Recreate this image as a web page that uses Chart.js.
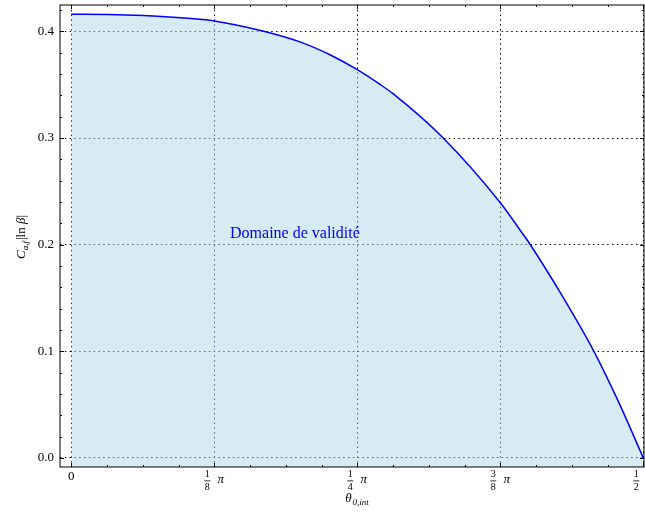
<!DOCTYPE html>
<html>
<head>
<meta charset="utf-8">
<script src="https://cdn.jsdelivr.net/npm/chart.js@4.4.1/dist/chart.umd.min.js"></script>
<style>
  html, body { margin: 0; padding: 0; background: #fff; }
</style>
</head>
<body>
<canvas id="chart" width="645" height="513"></canvas>
<script>
// curve (theta in rad, C_af*|ln beta|)
const theta = [0, 0.10, 0.198, 0.28, 0.3534, 0.3927, 0.5229, 0.628, 0.7104, 0.7854, 0.8478, 0.8843,
               1.0199, 1.1792, 1.2322, 1.2597, 1.3511, 1.4355, 1.5022, 1.5708];
const cab   = [0.4162, 0.4160, 0.4150, 0.4134, 0.4114, 0.4099, 0.4007, 0.3902, 0.3781, 0.3641, 0.3503, 0.3414,
               0.3005, 0.2389, 0.2138, 0.2004, 0.1503, 0.0998, 0.0530, 0];

const xMajor = [0, Math.PI / 8, Math.PI / 4, 3 * Math.PI / 8, Math.PI / 2];
const xNum = ['0', '1', '1', '3', '1'];
const xDen = ['', '8', '4', '8', '2'];
const yMajor = [0, 0.1, 0.2, 0.3, 0.4];
const yLabels = ['0.0', '0.1', '0.2', '0.3', '0.4'];

const annotText = 'Domaine de validité';
const annotX = 0.436, annotY = 0.206;

const serif = '"Liberation Serif", "DejaVu Serif", serif';

const decor = {
    id: 'decor',
    afterDraw(chart) {
        const { ctx, chartArea: ca, scales: { x, y } } = chart;
        ctx.save();

        // frame
        ctx.strokeStyle = '#000';
        ctx.lineWidth = 1;
        ctx.strokeRect(ca.left, ca.top, ca.right - ca.left, ca.bottom - ca.top);

        // inward ticks, all four sides
        ctx.beginPath();
        for (let k = 0; k <= 16; k++) {
            const px = Math.round(x.getPixelForValue(k * Math.PI / 32)) + 0.5;
            const len = k % 4 === 0 ? 4 : 2;
            ctx.moveTo(px, ca.bottom); ctx.lineTo(px, ca.bottom - len);
            ctx.moveTo(px, ca.top); ctx.lineTo(px, ca.top + len);
        }
        for (let k = 0; k <= 21; k++) {
            const py = Math.round(y.getPixelForValue(k * 0.02)) + 0.5;
            const len = k % 5 === 0 ? 4 : 2;
            ctx.moveTo(ca.left, py); ctx.lineTo(ca.left + len, py);
            ctx.moveTo(ca.right, py); ctx.lineTo(ca.right - len, py);
        }
        ctx.stroke();

        ctx.fillStyle = '#000';
        ctx.textBaseline = 'middle';

        // y tick labels
        ctx.textAlign = 'right';
        ctx.font = '13px ' + serif;
        yMajor.forEach((v, i) => {
            ctx.fillText(yLabels[i], ca.left - 6, y.getPixelForValue(v));
        });

        // x tick labels as fractions of pi
        ctx.textAlign = 'center';
        xMajor.forEach((v, i) => {
            const px = x.getPixelForValue(v);
            if (!xDen[i]) {
                ctx.font = '13px ' + serif;
                ctx.fillText(xNum[i], px, 477);
                return;
            }
            const fx = px - 7;
            ctx.font = '10px ' + serif;
            ctx.fillText(xNum[i], fx, 474.5);
            ctx.fillText(xDen[i], fx, 487);
            ctx.fillRect(fx - 3, 480.5, 6, 0.8);
            ctx.font = 'italic 13px ' + serif;
            ctx.fillText('π', px + 6.5, 479.5);
        });

        // x title: theta_{0,int}
        ctx.textAlign = 'left';
        ctx.font = 'italic 13px ' + serif;
        const wt = ctx.measureText('θ').width;
        ctx.font = 'italic 9px ' + serif;
        const ws = ctx.measureText('0,int').width;
        const sx = 357 - (wt + ws + 1) / 2;
        ctx.font = 'italic 13px ' + serif;
        ctx.fillText('θ', sx, 499);
        ctx.font = 'italic 9px ' + serif;
        ctx.fillText('0,int', sx + wt + 1, 503);

        // y title: C_{a,f}|ln beta|
        ctx.save();
        ctx.translate(22, 237);
        ctx.rotate(-Math.PI / 2);
        const parts = [
            ['C', 'italic 13px ', 0],
            ['a,f', 'italic 9px ', 3.5],
            ['|ln ', '13px ', 0],
            ['β', 'italic 13px ', 0],
            ['|', '13px ', 0],
        ];
        let total = 1;
        parts.forEach(p => { ctx.font = p[1] + serif; total += ctx.measureText(p[0]).width; });
        let cx = -total / 2;
        parts.forEach((p, i) => {
            ctx.font = p[1] + serif;
            ctx.fillText(p[0], cx, p[2]);
            cx += ctx.measureText(p[0]).width + (i === 1 ? 1 : 0);
        });
        ctx.restore();

        // annotation
        ctx.fillStyle = '#0000ff';
        ctx.font = '16px ' + serif;
        ctx.textBaseline = 'alphabetic';
        ctx.fillText(annotText, x.getPixelForValue(annotX), y.getPixelForValue(annotY));

        ctx.restore();
    },
};

const gridOpts = { color: '#000', lineWidth: 1, drawTicks: false };
const borderOpts = { display: false, dash: [1.5, 3.3] };

new Chart(document.getElementById('chart'), {
    type: 'line',
    data: {
        datasets: [{
            data: theta.map((t, i) => ({ x: t, y: cab[i] })),
            borderColor: '#0000ff',
            borderWidth: 1.5,
            backgroundColor: 'rgba(173, 216, 230, 0.5)',
            fill: 'start',
            pointRadius: 0,
            cubicInterpolationMode: 'monotone',
        }],
    },
    options: {
        responsive: false,
        devicePixelRatio: 1,
        animation: false,
        layout: { padding: { top: 5, right: 1, left: 0, bottom: 0 } },
        plugins: { legend: { display: false }, tooltip: { enabled: false } },
        scales: {
            x: {
                type: 'linear',
                min: -0.031,
                max: 1.5727,
                afterBuildTicks: s => { s.ticks = xMajor.map(v => ({ value: v })); },
                afterFit: s => { s.height = 46; },
                ticks: { display: false },
                grid: gridOpts,
                border: borderOpts,
                z: 1,
            },
            y: {
                min: -0.0085,
                max: 0.4248,
                afterBuildTicks: s => { s.ticks = yMajor.map(v => ({ value: v })); },
                afterFit: s => { s.width = 60; },
                ticks: { display: false },
                grid: gridOpts,
                border: borderOpts,
                z: 1,
            },
        },
    },
    plugins: [decor],
});
</script>
</body>
</html>
